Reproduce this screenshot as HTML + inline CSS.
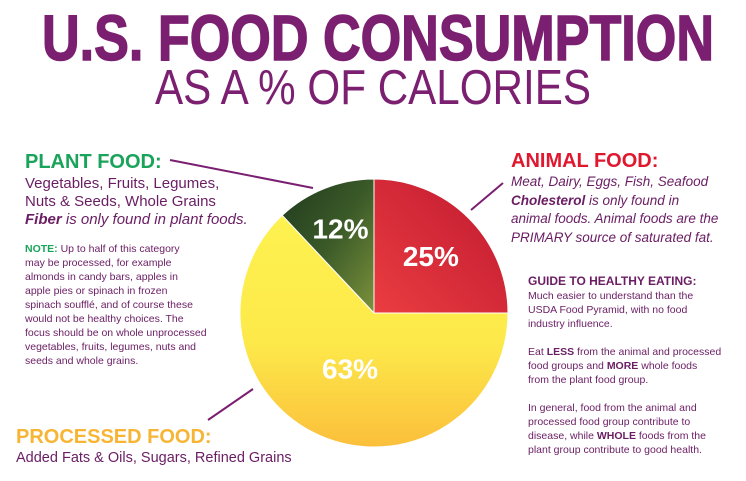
<!DOCTYPE html>
<html><head><meta charset="utf-8"><style>
html,body{margin:0;padding:0;background:#fff;}
svg{display:block;font-family:"Liberation Sans",sans-serif;}
</style></head><body>
<svg width="746" height="481" viewBox="0 0 746 481">
<defs>
<linearGradient id="gRed" x1="0" y1="1" x2="1" y2="0"><stop offset="0" stop-color="#ea3d41"/><stop offset="1" stop-color="#bf1830"/></linearGradient>
<linearGradient id="gYel" x1="0" y1="0" x2="0" y2="1"><stop offset="0" stop-color="#fdf250"/><stop offset="0.55" stop-color="#fde94a"/><stop offset="1" stop-color="#fbbf3b"/></linearGradient>
<linearGradient id="gGrn" x1="0" y1="0" x2="1" y2="1"><stop offset="0" stop-color="#1f3a1e"/><stop offset="0.5" stop-color="#3b5a28"/><stop offset="1" stop-color="#7c923c"/></linearGradient>
</defs>
<text x="378" y="60" text-anchor="middle" font-size="64" font-weight="bold" fill="#7b1f70" stroke="#7b1f70" stroke-width="1.5" textLength="672" lengthAdjust="spacingAndGlyphs">U.S. FOOD CONSUMPTION</text>
<text x="373" y="104" text-anchor="middle" font-size="49" fill="#7b1f70" textLength="436" lengthAdjust="spacingAndGlyphs">AS A % OF CALORIES</text>

<g id="pie"></g>

<line x1="170" y1="160" x2="313" y2="188" stroke="#7b1f70" stroke-width="2"/>
<line x1="471" y1="210" x2="503" y2="183" stroke="#7b1f70" stroke-width="2"/>
<line x1="208" y1="420" x2="253" y2="389" stroke="#7b1f70" stroke-width="2"/>

<g fill="#6a1d63">
<text x="25" y="168" font-size="20" font-weight="bold" fill="#1aa35a">PLANT FOOD:</text>
<text x="25" y="188" font-size="15">Vegetables, Fruits, Legumes,</text>
<text x="25" y="206" font-size="15">Nuts &amp; Seeds, Whole Grains</text>
<text x="25" y="224" font-size="15" font-style="italic"><tspan font-weight="bold">Fiber</tspan> is only found in plant foods.</text>
<g font-size="10.5">
<text x="25" y="252"><tspan font-weight="bold" fill="#1aa35a">NOTE:</tspan> Up to half of this category</text>
<text x="25" y="266">may be processed, for example</text>
<text x="25" y="280">almonds in candy bars, apples in</text>
<text x="25" y="294">apple pies or spinach in frozen</text>
<text x="25" y="308">spinach soufflé, and of course these</text>
<text x="25" y="322">would not be healthy choices. The</text>
<text x="25" y="336">focus should be on whole unprocessed</text>
<text x="25" y="350">vegetables, fruits, legumes, nuts and</text>
<text x="25" y="364">seeds and whole grains.</text>
</g></g>

<g fill="#6a1d63">
<text x="511" y="167" font-size="20" font-weight="bold" fill="#e0182f">ANIMAL FOOD:</text>
<text x="511" y="186" font-size="13.5" font-style="italic">Meat, Dairy, Eggs, Fish, Seafood</text>
<text x="511" y="205" font-size="13.5" font-style="italic"><tspan font-weight="bold">Cholesterol</tspan> is only found in</text>
<text x="511" y="223" font-size="13.5" font-style="italic">animal foods. Animal foods are the</text>
<text x="511" y="242" font-size="13.5" font-style="italic">PRIMARY source of saturated fat.</text>
<g font-size="10.5">
<text x="528" y="285" font-weight="bold" font-size="12">GUIDE TO HEALTHY EATING:</text>
<text x="528" y="299">Much easier to understand than the</text>
<text x="528" y="313">USDA Food Pyramid, with no food</text>
<text x="528" y="327">industry influence.</text>
<text x="528" y="355">Eat <tspan font-weight="bold">LESS</tspan> from the animal and processed</text>
<text x="528" y="369">food groups and <tspan font-weight="bold">MORE</tspan> whole foods</text>
<text x="528" y="383">from the plant food group.</text>
<text x="528" y="411">In general, food from the animal and</text>
<text x="528" y="425">processed food group contribute to</text>
<text x="528" y="439">disease, while <tspan font-weight="bold">WHOLE</tspan> foods from the</text>
<text x="528" y="453">plant group contribute to good health.</text>
</g></g>

<g>
<text x="16" y="443" font-size="20" font-weight="bold" fill="#f7b535">PROCESSED FOOD:</text>
<text x="16" y="462" font-size="14.5" fill="#6a1d63">Added Fats &amp; Oils, Sugars, Refined Grains</text>
</g>
</svg>
<script>
const categories = ["Animal Food", "Processed Food", "Plant Food"];
const values = [25, 63, 12];
const labels = ["25%", "63%", "12%"];
const fills = ["url(#gRed)", "url(#gYel)", "url(#gGrn)"];
const ns = "http://www.w3.org/2000/svg";
const g = document.getElementById("pie");
const cx = 374, cy = 313, r = 134;
const total = values.reduce((a, b) => a + b, 0);
function pt(frac, rad) {
  const a = frac * 2 * Math.PI - Math.PI / 2;
  return [cx + rad * Math.cos(a), cy + rad * Math.sin(a)];
}
let acc = 0;
values.forEach((v, i) => {
  const f0 = acc / total, f1 = (acc + v) / total;
  acc += v;
  const p0 = pt(f0, r), p1 = pt(f1, r);
  const large = (f1 - f0) > 0.5 ? 1 : 0;
  const path = document.createElementNS(ns, "path");
  path.setAttribute("d", `M${cx},${cy} L${p0[0]},${p0[1]} A${r},${r} 0 ${large} 1 ${p1[0]},${p1[1]} Z`);
  path.setAttribute("fill", fills[i]);
  path.setAttribute("stroke", "#fff");
  path.setAttribute("stroke-width", "1");
  
  
  g.appendChild(path);
  const fm = (f0 + f1) / 2;
  const lr = v < 20 ? r * 0.68 : (v > 50 ? r * 0.45 : r * 0.6);
  const lp = pt(fm, lr);
  const t = document.createElementNS(ns, "text");
  t.setAttribute("x", lp[0]);
  t.setAttribute("y", lp[1] + 10);
  t.setAttribute("text-anchor", "middle");
  t.setAttribute("font-size", "28");
  t.setAttribute("font-weight", "bold");
  t.setAttribute("fill", "#fff");
  t.textContent = labels[i];
  
  
  g.appendChild(t);
});
</script>
</body></html>
